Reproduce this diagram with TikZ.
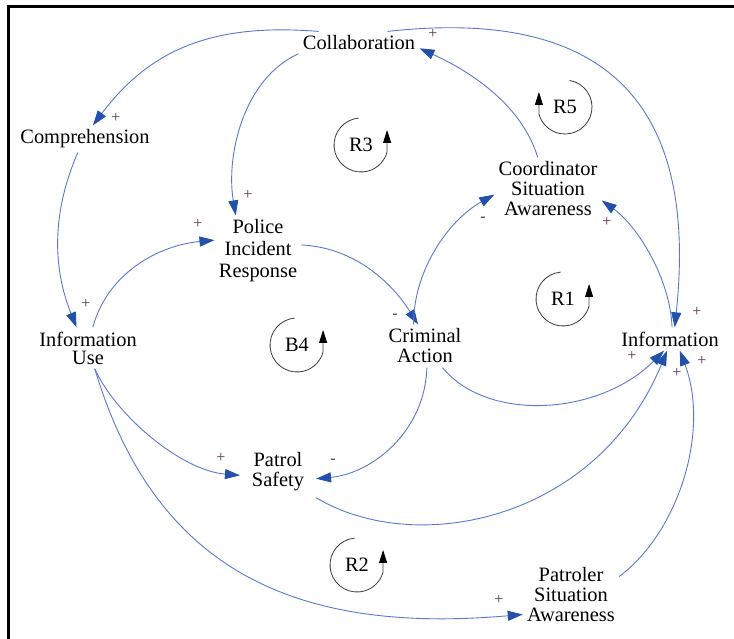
\documentclass[tikz,border=0pt]{standalone}
\usepackage{fontspec}
\setmainfont{Liberation Serif}
\usetikzlibrary{arrows.meta,positioning}
\definecolor{linkcol}{RGB}{90,120,210}
\definecolor{tipcol}{RGB}{35,80,170}
\definecolor{polcol}{RGB}{85,50,80}
\definecolor{loopcol}{RGB}{60,60,60}
\tikzstyle{var}=[align=center, inner sep=2pt, font=\rmfamily\fontsize{10.2}{10}\selectfont]
\tikzstyle{pol}=[inner sep=0pt, text=polcol, font=\rmfamily\fontsize{8}{8}\selectfont]
\tikzstyle{causal}=[draw=linkcol, line width=0.45pt, -{Triangle[length=7.5pt,width=5pt,color=tipcol]}]
\tikzstyle{looplbl}=[var, inner sep=0pt]
\tikzstyle{loopline}=[draw=loopcol, line width=0.4pt, -{Triangle[length=6.5pt,width=4pt,color=black]}]
% loop markers: arrow up on the right (ccw) or on the left (cw)
\newcommand{\loopccw}[1]{\draw[loopline] (#1.center) ++(-95:27) arc[start angle=-95, end angle=-345, radius=27] -- ++(0,-22);}
\newcommand{\loopcw}[1]{\draw[loopline] (#1.center) ++(-80:27) arc[start angle=-80, end angle=165, radius=27] -- ++(0,-22);}

\begin{document}
\begin{tikzpicture}[x=0.5pt,y=-0.5pt]
    \path[use as bounding box, clip] (0,0) rectangle (734,638);
    \draw[line width=1.5pt] (8,6) rectangle (760,660);

    % variables
    \node[var] (colab) at (359,43) {Collaboration};
    \node[var] (compr) at (85,139) {Comprehension};
    \node[var] (police) at (258,251) {Police\\[1pt]Incident\\[1pt]Response};
    \node[var] (infouse) at (88,348) {Information\\[-1pt]Use};
    \node[var] (crim) at (425,346) {Criminal\\Action};
    \node[var] (info) at (670,339) {Information};
    \node[var] (coord) at (548,189) {Coordinator\\Situation\\Awareness};
    \node[var, outer sep=4pt] (patrol) at (278,472) {Patrol\\Safety};
    \node[var] (patroler) at (571,595) {Patroler\\Situation\\Awareness};

    % loops
    \node[looplbl] (r3) at (361,145) {R3};
    \node[looplbl] (r5) at (565,107) {R5};
    \node[looplbl] (r1) at (563,299) {R1};
    \node[looplbl] (b4) at (297,345) {B4};
    \node[looplbl] (r2) at (357,565) {R2};
    \loopccw{r3}
    \loopcw{r5}
    \loopccw{r1}
    \loopccw{b4}
    \loopccw{r2}

    % links
    \draw[causal] (colab.164) .. controls +(-100,-8) and +(60,-80) .. (compr.60);
    \draw[causal] (colab.-170) .. controls +(-55,25) and +(-10,-60) .. (police.122);
    \draw[causal] (compr.-118) .. controls +(-26,60) and +(-24,-60) .. (infouse.119);
    \draw[causal] (infouse.77) .. controls +(15,-55) and +(-55,5) .. (police.166);
    \draw[causal] (police.8) .. controls +(55,3) and +(-25,-40) .. (crim.108);
    \draw[causal] (crim.118) .. controls +(0,-55) and +(-45,25) .. (coord.186);
    \draw[causal] (coord.108) .. controls +(-15,-50) and +(55,25) .. (colab.-5);
    \draw[causal] (colab.22) .. controls +(250,-28) and +(20,-190) .. (info.68);
    \draw[causal] (info.80) .. controls +(-2,-50) and +(35,25) .. (coord.-12);
    \draw[causal] (crim.-51) .. controls +(45,55) and +(-65,65) .. (info.-117);
    \draw[causal] (crim.-85) .. controls +(-2,65) and +(55,-5) .. (patrol.-10);
    \draw[causal] (infouse.-72) .. controls +(20,45) and +(-60,-5) .. (patrol.-175);
    \draw[causal] (patrol.-34) .. controls +(100,60) and +(-70,170) .. (info.-104);
    \draw[causal] (infouse.-72) .. controls +(60,200) and +(-230,20) .. (patroler.-158);
    \draw[causal] (patroler.21) .. controls +(60,-45) and +(30,80) .. (info.-50);

    % polarities
    \node[pol] (p1) at (116,118) {+};
    \node[pol] (p2) at (248,195) {+};
    \node[pol] (p3) at (86,304) {+};
    \node[pol] (p4) at (198,224) {+};
    \node[pol] (p5) at (395,316) {-};
    \node[pol] (p6) at (483,219) {-};
    \node[pol] (p7) at (433,34) {+};
    \node[pol] (p8) at (697,312) {+};
    \node[pol] (p9) at (607,222) {+};
    \node[pol] (p10) at (632,356) {+};
    \node[pol] (p11) at (333,461) {-};
    \node[pol] (p12) at (221,458) {+};
    \node[pol] (p13) at (677,373) {+};
    \node[pol] (p14) at (499,600) {+};
    \node[pol] (p15) at (702,361) {+};
\end{tikzpicture}
\end{document}
